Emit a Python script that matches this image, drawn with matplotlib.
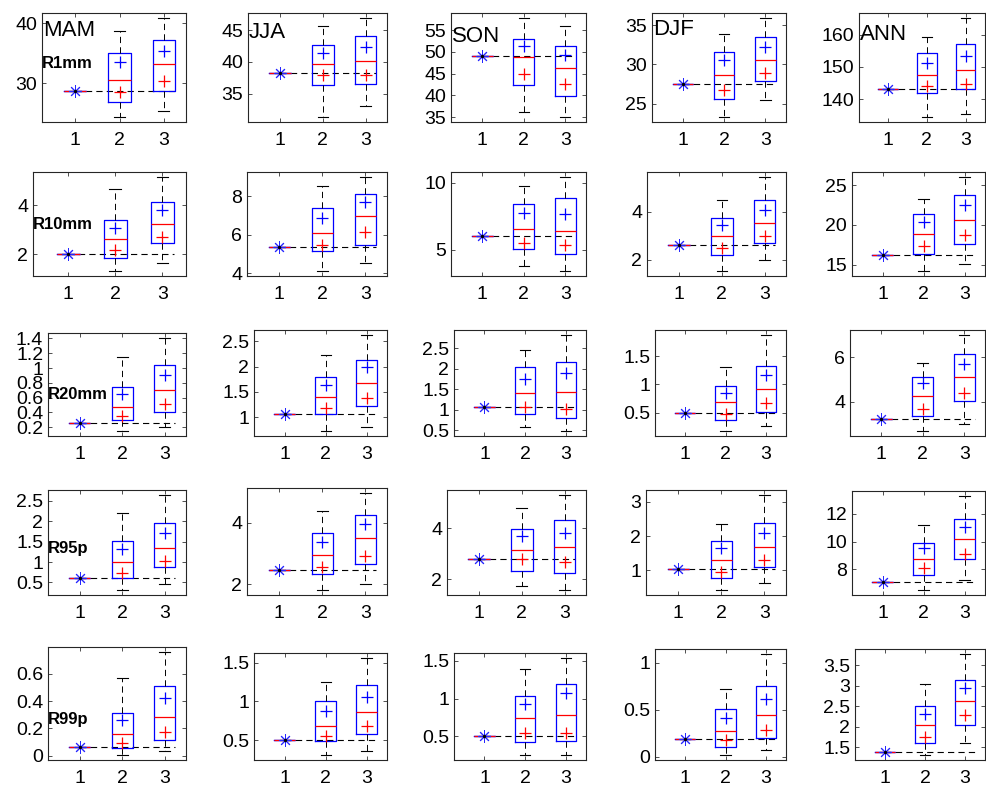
import matplotlib
matplotlib.use('Agg')
import matplotlib.pyplot as plt

plt.rcParams['font.family'] = ['Liberation Sans', 'DejaVu Sans']
plt.rcParams['lines.scale_dashes'] = False

# ---------------- data ----------------
seasons = ['MAM', 'JJA', 'SON', 'DJF', 'ANN']
indices = ['R1mm', 'R10mm', 'R20mm', 'R95p', 'R99p']
groups = [1, 2, 3]

# observed value (group 1), one per season
R1mm_obs = [28.8, 38.3, 49.0, 27.5, 143.1]
R10mm_obs = [2.0, 5.34, 6.06, 2.63, 16.26]
R20mm_obs = [0.255, 1.07, 1.07, 0.49, 3.22]
R95p_obs = [0.62, 2.46, 2.8, 1.02, 7.11]
R99p_obs = [0.062, 0.5, 0.5, 0.19, 1.39]

# groups 2 and 3, per season:
# (lower whisker, q1, median, q3, upper whisker, blue +, red +)
R1mm_g2 = [(24.4, 26.9, 30.6, 35.1, 38.7, 33.6, 28.5),
           (31.3, 36.3, 39.7, 42.6, 45.6, 41.4, 37.9),
           (36.2, 42.4, 48.9, 52.9, 57.8, 51.3, 44.9),
           (23.3, 25.6, 28.7, 31.6, 33.8, 30.5, 26.8),
           (134.4, 141.8, 147.4, 154.2, 159.2, 151.3, 144.1)]
R1mm_g3 = [(25.4, 28.7, 33.2, 37.3, 40.9, 35.4, 30.4),
           (33.1, 36.5, 40.1, 44.0, 46.9, 42.3, 37.9),
           (35.0, 39.8, 46.4, 51.3, 56.0, 49.2, 42.5),
           (25.5, 27.9, 30.6, 33.5, 35.9, 32.2, 28.9),
           (135.4, 143.0, 149.0, 157.0, 165.2, 153.3, 144.6)]

R10mm_g2 = [(1.30, 1.84, 2.62, 3.42, 4.68, 3.08, 2.16),
            (4.10, 5.14, 6.09, 7.38, 8.55, 6.86, 5.48),
            (3.76, 5.07, 6.53, 8.45, 9.78, 7.73, 5.52),
            (1.53, 2.21, 2.97, 3.73, 4.48, 3.45, 2.49),
            (14.2, 16.39, 18.82, 21.39, 23.28, 20.34, 17.4)]
R10mm_g3 = [(1.64, 2.45, 3.22, 4.15, 5.18, 3.80, 2.72),
            (4.55, 5.48, 7.0, 8.14, 9.03, 7.72, 6.14),
            (3.39, 4.70, 6.38, 8.89, 10.46, 7.66, 5.37),
            (2.0, 2.70, 3.52, 4.48, 5.44, 4.07, 3.0),
            (15.08, 17.65, 20.6, 23.78, 26.05, 22.5, 18.8)]

R20mm_g2 = [(0.145, 0.30, 0.47, 0.75, 1.15, 0.65, 0.35),
            (0.72, 1.07, 1.40, 1.79, 2.23, 1.64, 1.17),
            (0.57, 0.89, 1.41, 2.04, 2.45, 1.76, 1.07),
            (0.17, 0.37, 0.68, 0.98, 1.31, 0.84, 0.47),
            (2.68, 3.35, 4.27, 5.14, 5.77, 4.84, 3.67)]
R20mm_g3 = [(0.2, 0.406, 0.70, 1.035, 1.41, 0.91, 0.52),
            (0.81, 1.21, 1.68, 2.14, 2.63, 2.0, 1.38),
            (0.48, 0.80, 1.44, 2.16, 2.83, 1.90, 1.02),
            (0.27, 0.51, 0.91, 1.33, 1.88, 1.16, 0.67),
            (3.0, 4.02, 5.1, 6.15, 7.02, 5.7, 4.42)]

R95p_g2 = [(0.31, 0.62, 1.01, 1.52, 2.2, 1.33, 0.74),
           (1.8, 2.33, 2.95, 3.67, 4.4, 3.37, 2.55),
           (1.74, 2.33, 3.16, 3.97, 4.79, 3.67, 2.78),
           (0.41, 0.78, 1.29, 1.86, 2.34, 1.65, 0.95),
           (6.49, 7.57, 8.77, 9.93, 11.19, 9.57, 8.07)]
R95p_g3 = [(0.47, 0.88, 1.34, 1.95, 2.65, 1.71, 1.03),
           (2.0, 2.66, 3.5, 4.27, 4.98, 3.95, 2.93),
           (1.57, 2.24, 3.24, 4.3, 5.3, 3.81, 2.68),
           (0.63, 1.08, 1.67, 2.39, 3.21, 2.09, 1.29),
           (7.2, 8.77, 10.17, 11.66, 13.32, 11.07, 9.13)]

R99p_g2 = [(0.005, 0.054, 0.16, 0.316, 0.568, 0.26, 0.093),
           (0.31, 0.49, 0.69, 1.01, 1.25, 0.88, 0.55),
           (0.25, 0.43, 0.74, 1.03, 1.39, 0.93, 0.54),
           (0.017, 0.10, 0.27, 0.51, 0.72, 0.41, 0.18),
           (1.31, 1.6, 2.03, 2.5, 3.05, 2.3, 1.75)]
R99p_g3 = [(0.032, 0.116, 0.284, 0.514, 0.76, 0.42, 0.175),
           (0.36, 0.58, 0.87, 1.21, 1.56, 1.06, 0.68),
           (0.25, 0.44, 0.78, 1.19, 1.54, 1.07, 0.54),
           (0.07, 0.2, 0.44, 0.75, 1.09, 0.61, 0.28),
           (1.6, 2.03, 2.62, 3.14, 3.77, 2.95, 2.28)]

# y tick values per panel
R1mm_yticks = [[30, 40], [35, 40, 45], [35, 40, 45, 50, 55], [25, 30, 35], [140, 150, 160]]
R10mm_yticks = [[2, 4], [4, 6, 8], [5, 10], [2, 4], [15, 20, 25]]
R20mm_yticks = [[0.2, 0.4, 0.6, 0.8, 1.0, 1.2, 1.4], [1, 1.5, 2, 2.5],
                [0.5, 1, 1.5, 2, 2.5], [0.5, 1, 1.5], [4, 6]]
R95p_yticks = [[0.5, 1, 1.5, 2, 2.5], [2, 4], [2, 4], [1, 2, 3], [8, 10, 12]]
R99p_yticks = [[0, 0.2, 0.4, 0.6], [0.5, 1, 1.5], [0.5, 1, 1.5], [0, 0.5, 1],
               [1.5, 2, 2.5, 3, 3.5]]

obs_all = [R1mm_obs, R10mm_obs, R20mm_obs, R95p_obs, R99p_obs]
g2_all = [R1mm_g2, R10mm_g2, R20mm_g2, R95p_g2, R99p_g2]
g3_all = [R1mm_g3, R10mm_g3, R20mm_g3, R95p_g3, R99p_g3]
yticks_all = [R1mm_yticks, R10mm_yticks, R20mm_yticks, R95p_yticks, R99p_yticks]

# ---------------- layout (pixels) ----------------
W, H = 987, 786
col_right = [186, 387, 586, 786, 985]
row_bottom = [122, 276, 436, 595, 760]
lefts = [[42, 248, 451, 652, 859],
         [33, 247, 451, 647, 852],
         [48, 254, 454, 655, 850],
         [48, 247, 447, 646, 852],
         [48, 254, 454, 655, 855]]
tops = [[13, 13, 13, 13, 13],
        [172, 172, 172, 172, 172],
        [333, 330, 330, 330, 330],
        [490, 488, 490, 490, 491],
        [647, 653, 653, 649, 649]]
season_label_y = [0.844, 0.817, 0.78, 0.85, 0.80]
index_label_y = [0.535, 0.493, 0.40, 0.44, 0.358]

DASH = (0, (4.5, 3.0))

fig = plt.figure(figsize=(W / 100, H / 100), dpi=100)

for i in range(5):
    for j in range(5):
        l, t = lefts[i][j], tops[i][j]
        r, b = col_right[j], row_bottom[i]
        ax = fig.add_axes([l / W, 1 - b / H, (r - l) / W, (b - t) / H])

        o = obs_all[i][j]
        g2 = g2_all[i][j]
        g3 = g3_all[i][j]
        stats = [dict(med=o, q1=o, q3=o, whislo=o, whishi=o)]
        for g in (g2, g3):
            lo, q1, med, q3, hi, bm, rm = g
            stats.append(dict(med=med, q1=q1, q3=q3, whislo=lo, whishi=hi))

        # horizontal dashed reference line at the observed value
        ax.plot([groups[0], groups[-1] + 0.25], [o, o], color='k', lw=0.8,
                linestyle=DASH, zorder=1.9)

        ax.bxp(stats, positions=groups, widths=0.5, capwidths=0.25,
               showfliers=False, showmeans=False,
               boxprops=dict(color=(0, 0, 1), lw=0.9),
               medianprops=dict(color=(1, 0, 0), lw=0.9),
               whiskerprops=dict(color='k', lw=0.7, linestyle=DASH),
               capprops=dict(color='k', lw=0.8))

        # observed marker
        ax.plot([groups[0]], [o], linestyle='none', marker=(8, 2, 0), ms=9,
                mec=(0.15, 0.15, 1), mfc='none', mew=0.7, zorder=3)
        ax.plot([groups[0]], [o], linestyle='none', marker='o', ms=1.4,
                mfc='k', mec='k', zorder=4)

        # blue and red plus markers for groups 2 and 3
        ax.plot(groups[1:], [g2[5], g3[5]], linestyle='none', marker='+',
                ms=9, mew=0.9, color=(0, 0, 1), zorder=3)
        ax.plot(groups[1:], [g2[6], g3[6]], linestyle='none', marker='+',
                ms=9, mew=0.9, color=(1, 0, 0), zorder=3)

        vals = [o] + list(g2[:5]) + list(g3[:5])
        lo_v, hi_v = min(vals), max(vals)
        pad = 0.05 * (hi_v - lo_v)
        ax.set_ylim(lo_v - pad, hi_v + pad)
        ax.set_xlim(0.25, 3.5)
        ax.set_xticks(groups)
        ax.set_xticklabels([str(g) for g in groups])
        yt = yticks_all[i][j]
        ax.set_yticks(yt)
        ax.set_yticklabels(['%g' % v for v in yt])

        ax.tick_params(direction='in', length=3, width=0.6, top=True, right=True,
                       labelsize=14, color='0.2')
        ax.tick_params(axis='x', pad=7)
        ax.tick_params(axis='y', pad=3.5)
        for sp in ax.spines.values():
            sp.set_color('0.15')
            sp.set_linewidth(0.8)

        if i == 0:
            ax.text(0.005, season_label_y[j], seasons[j], transform=ax.transAxes,
                    ha='left', va='center', fontsize=16, zorder=5)
        if j == 0:
            ax.text(0.0, index_label_y[i], indices[i], transform=ax.transAxes,
                    ha='left', va='center', fontsize=12, fontweight='bold',
                    zorder=5)

fig.savefig('out.png', dpi=100)
